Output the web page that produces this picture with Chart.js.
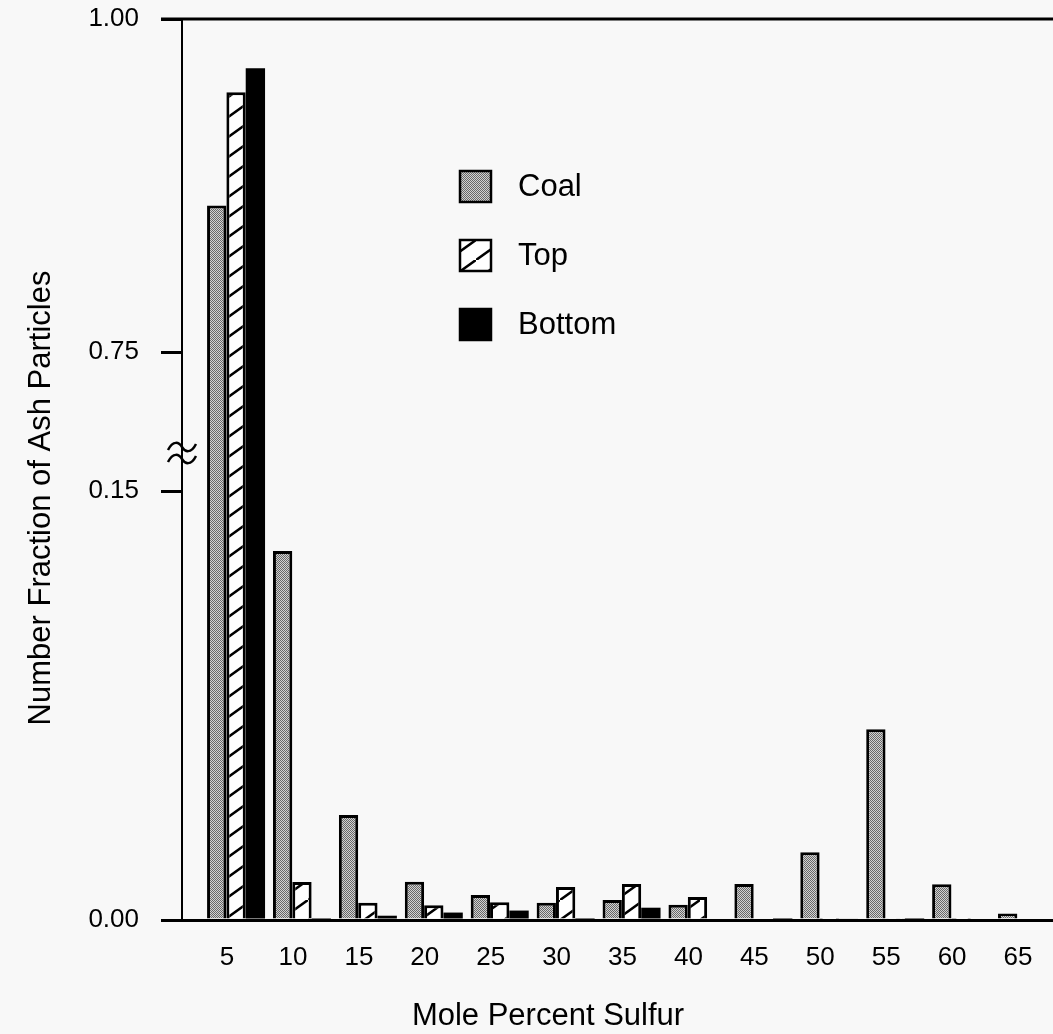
<!DOCTYPE html>
<html>
<head>
<meta charset="utf-8">
<script src="https://cdn.jsdelivr.net/npm/chart.js@4.4.1/dist/chart.umd.min.js"></script>
<style>
    html,
    body {
        margin: 0;
        padding: 0;
        background: #f8f8f8;
    }
</style>
</head>
<body>
<canvas id="ashChart" width="1053" height="1034"></canvas>
<script>
// ================================
// DATA
// ================================

const sulfur = [5, 10, 15, 20, 25, 30, 35, 40, 45, 50, 55, 60, 65];

const coalAsh = [0.86, 0.129, 0.0367, 0.0134, 0.0087, 0.006, 0.007, 0.0053, 0.0126, 0.0237, 0.0667, 0.0125, 0.0023];
const topAsh = [0.945, 0.0133, 0.006, 0.0052, 0.0062, 0.0115, 0.0126, 0.008, 0, 0.0002, 0.0004, 0.0002, 0];
const bottomAsh = [0.963, 0.0003, 0.0015, 0.0026, 0.0033, 0.0003, 0.0043, 0, 0.0003, 0.0005, 0.0002, 0, 0];

const yTickValues = [0, 0.15, 0.75, 1.0];
const yTickLabels = ["0.00", "0.15", "0.75", "1.00"];

const FONT = "'Liberation Sans', Arial, Helvetica, sans-serif";

// ================================
// BROKEN Y AXIS (0 - 0.15 | break | 0.75 - 1.00)
// ================================

const LOW_UNITS = 429;
const GAP_UNITS = 139;
const HIGH_UNITS = 333;

function toAxis(v) {
    if (v <= 0.15) return (v / 0.15) * LOW_UNITS;
    if (v >= 0.75) return LOW_UNITS + GAP_UNITS + ((v - 0.75) / 0.25) * HIGH_UNITS;
    return LOW_UNITS + ((v - 0.15) / 0.6) * GAP_UNITS;
}

// ================================
// FILL PATTERNS
// ================================

function makeStipple() {
    const c = document.createElement("canvas");
    c.width = 2;
    c.height = 2;
    const g = c.getContext("2d");
    g.fillStyle = "#d2d2d2";
    g.fillRect(0, 0, 2, 2);
    g.fillStyle = "#686868";
    g.fillRect(0, 0, 1, 1);
    g.fillRect(1, 1, 1, 1);
    return g.createPattern(c, "repeat");
}

function makeHatch() {
    const c = document.createElement("canvas");
    c.width = 28;
    c.height = 20;
    const g = c.getContext("2d");
    g.fillStyle = "#ffffff";
    g.fillRect(0, 0, 28, 20);
    g.strokeStyle = "#000";
    g.lineWidth = 2.6;
    g.beginPath();
    g.moveTo(-2.8, 22);
    g.lineTo(30.8, -2);
    g.stroke();
    return g.createPattern(c, "repeat");
}

const coalFill = makeStipple();
const topFill = makeHatch();

// ================================
// EXTRA DRAWING: frame, axis break, legend, titles
// ================================

const decorPlugin = {
    id: "decor",
    afterDraw(chart) {
        const ctx = chart.ctx;
        const area = chart.chartArea;
        const yScale = chart.scales.y;

        ctx.save();

        // top frame line
        ctx.strokeStyle = "#000";
        ctx.lineWidth = 3;
        ctx.beginPath();
        ctx.moveTo(area.left - 21, area.top);
        ctx.lineTo(area.right, area.top);
        ctx.stroke();

        // axis break squiggle
        const by = yScale.getPixelForValue(LOW_UNITS + 38);
        const bx = area.left;
        ctx.lineWidth = 2.5;
        [-6, 6].forEach((dy) => {
            const y = by + dy;
            ctx.beginPath();
            ctx.moveTo(bx - 14, y + 3);
            ctx.bezierCurveTo(bx - 9, y - 7, bx - 3, y - 5, bx, y);
            ctx.bezierCurveTo(bx + 3, y + 5, bx + 9, y + 7, bx + 14, y - 3);
            ctx.stroke();
        });

        // legend
        ctx.font = "31px " + FONT;
        ctx.textBaseline = "middle";
        ctx.textAlign = "left";
        chart.data.datasets.forEach((ds, i) => {
            const x = 460;
            const y = 171 + i * 69;
            ctx.fillStyle = ds.backgroundColor;
            ctx.fillRect(x, y, 31, 31);
            ctx.lineWidth = 2.5;
            ctx.strokeStyle = "#000";
            ctx.strokeRect(x, y, 31, 31);
            ctx.fillStyle = "#000";
            ctx.fillText(ds.label, 518, y + 16);
        });

        // axis titles
        ctx.fillStyle = "#000";
        ctx.textAlign = "center";
        ctx.textBaseline = "alphabetic";
        ctx.fillText("Mole Percent Sulfur", 548, 1025);

        ctx.translate(50, 498);
        ctx.rotate(-Math.PI / 2);
        ctx.fillText("Number Fraction of Ash Particles", 0, 0);

        ctx.restore();
    },
};

// ================================
// CHART
// ================================

const ashCtx = document.getElementById("ashChart");

new Chart(ashCtx, {
    type: "bar",

    data: {
        datasets: [
            {
                label: "Coal",
                data: sulfur.map((s, i) => ({ x: s, y: toAxis(coalAsh[i]) })),
                backgroundColor: coalFill,
                borderColor: "#000",
                borderWidth: 3,
            },
            {
                label: "Top",
                data: sulfur.map((s, i) => ({ x: s, y: toAxis(topAsh[i]) })),
                backgroundColor: topFill,
                borderColor: "#000",
                borderWidth: 3,
            },
            {
                label: "Bottom",
                data: sulfur.map((s, i) => ({ x: s, y: toAxis(bottomAsh[i]) })),
                backgroundColor: "#000",
                borderColor: "#000",
                borderWidth: 0,
            },
        ],
    },

    options: {
        responsive: false,
        animation: false,
        events: [],

        layout: {
            padding: { top: 19, left: 0, right: 0, bottom: 0 },
        },

        datasets: {
            bar: {
                categoryPercentage: 0.88,
                barPercentage: 1.0,
            },
        },

        plugins: {
            legend: { display: false },
            tooltip: { enabled: false },
        },

        scales: {
            x: {
                type: "linear",
                offset: false,
                min: 0.9,
                max: 66.97,
                grid: { display: false, drawTicks: false, offset: false },
                border: { display: true, color: "#000", width: 3 },
                ticks: {
                    color: "#000",
                    font: { family: FONT, size: 26 },
                    padding: 22,
                    labelOffset: -9,
                    maxRotation: 0,
                    autoSkip: false,
                    callback: (value) => value,
                },
                afterBuildTicks: (scale) => {
                    scale.ticks = sulfur.map((v) => ({ value: v }));
                },
                afterFit: (scale) => {
                    scale.height = 114;
                    scale.paddingLeft = 0;
                    scale.paddingRight = 0;
                },
            },

            y: {
                type: "linear",
                min: 0,
                max: toAxis(1.0),
                grid: {
                    drawOnChartArea: false,
                    drawTicks: true,
                    tickLength: 21,
                    color: "#000",
                    lineWidth: 3,
                },
                border: { display: true, color: "#000", width: 2 },
                ticks: {
                    color: "#000",
                    font: { family: FONT, size: 26 },
                    padding: 22,
                    callback: (value, index) => yTickLabels[index],
                },
                afterBuildTicks: (scale) => {
                    scale.ticks = yTickValues.map((v) => ({ value: toAxis(v) }));
                },
                afterFit: (scale) => {
                    scale.width = 182;
                    scale.paddingTop = 0;
                    scale.paddingBottom = 0;
                },
            },
        },
    },

    plugins: [decorPlugin],
});
</script>
</body>
</html>
